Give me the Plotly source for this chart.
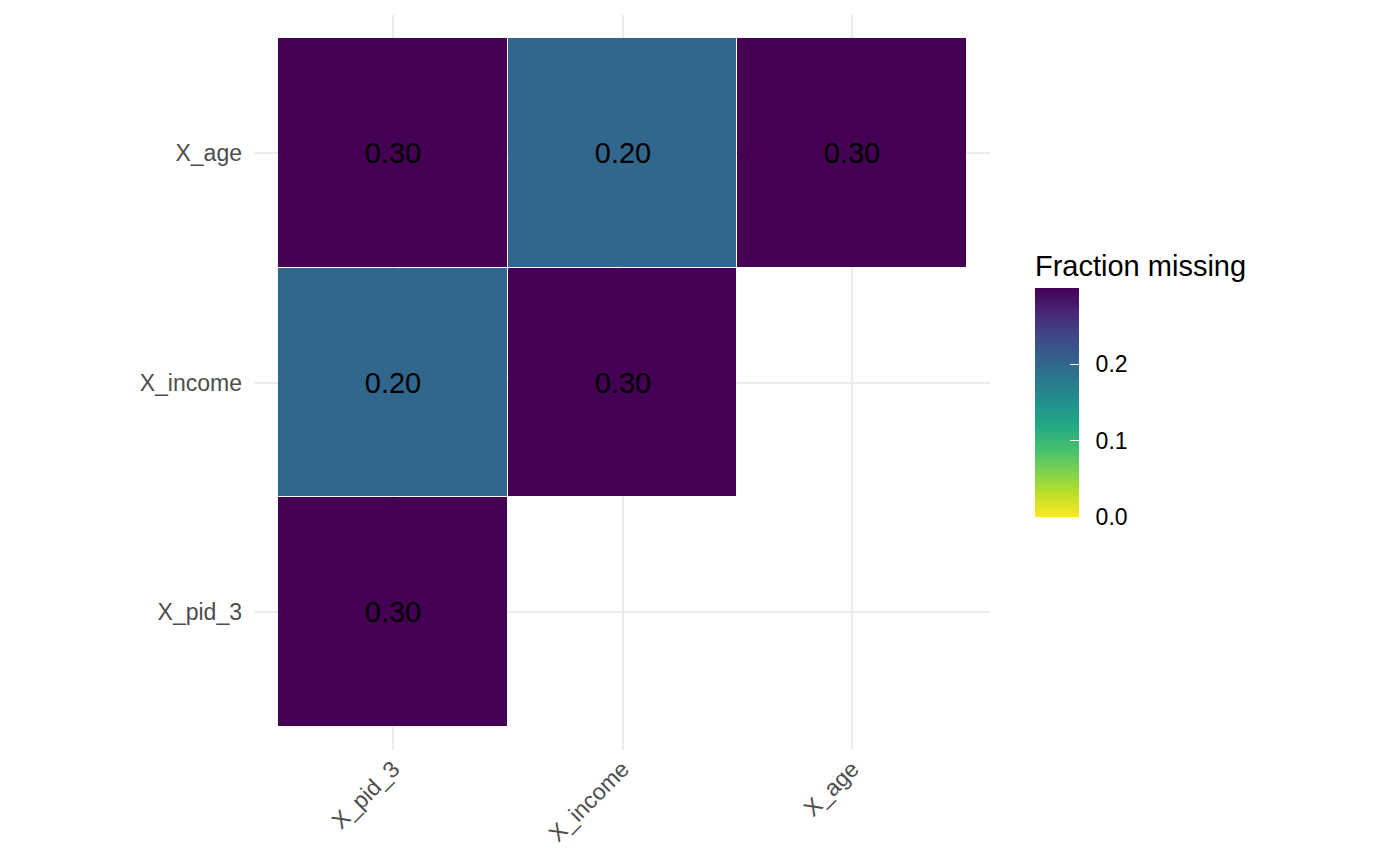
import plotly.graph_objects as go

x_cats = ["X_pid_3", "X_income", "X_age"]
y_cats = ["X_pid_3", "X_income", "X_age"]  # bottom to top
frac_pid_3 = [0.30, None, None]
frac_income = [0.20, 0.30, None]
frac_age = [0.30, 0.20, 0.30]
z = [frac_pid_3, frac_income, frac_age]

colorbar_ticks = [0.0, 0.1, 0.2]
colorbar_ticktext = ["\u20020.0", "\u20020.1", "\u20020.2"]

viridis = ["#440154", "#482475", "#414487", "#355f8d", "#2a788e", "#21918c",
           "#22a884", "#44bf70", "#7ad151", "#bddf26", "#fde725"]
viridis_r = [[i / 10, c] for i, c in enumerate(reversed(viridis))]

FONT = "Liberation Sans, Arial, sans-serif"

fig = go.Figure(go.Heatmap(
    x=x_cats, y=y_cats, z=z,
    zmin=0, zmax=0.3,
    colorscale=viridis_r,
    xgap=1, ygap=1,
    texttemplate="%{z:.2f}",
    textfont=dict(family=FONT, size=29, color="black"),
    hoverongaps=False,
    colorbar=dict(
        title=dict(text="Fraction missing", side="top",
                   font=dict(family=FONT, size=29, color="black")),
        tickvals=colorbar_ticks, ticktext=colorbar_ticktext,
        tickfont=dict(family=FONT, size=23, color="black"),
        ticks="inside", ticklen=9, tickcolor="white", tickwidth=1,
        thicknessmode="pixels", thickness=44,
        lenmode="pixels", len=266,
        x=1.0612, xanchor="left", xpad=0,
        y=0.317, yanchor="bottom", ypad=0,
        outlinewidth=0, borderwidth=0,
    ),
))

fig.update_layout(
    width=1392, height=858,
    margin=dict(l=247, r=410, t=7, b=116),
    paper_bgcolor="white", plot_bgcolor="white",
    font=dict(family=FONT, size=23, color="#4d4d4d"),
    xaxis=dict(
        type="category", range=[-0.6, 2.6],
        showgrid=True, gridcolor="#ebebeb", gridwidth=2,
        zeroline=False, showline=False, ticks="",
        tickangle=-45, tickfont=dict(size=23, color="#4d4d4d"),
    ),
    yaxis=dict(
        type="category", range=[-0.6, 2.6],
        showgrid=True, gridcolor="#ebebeb", gridwidth=2,
        zeroline=False, showline=False, ticks="",
        ticklabelstandoff=12,
        tickfont=dict(size=23, color="#4d4d4d"),
    ),
)

fig.write_html("out.html")
